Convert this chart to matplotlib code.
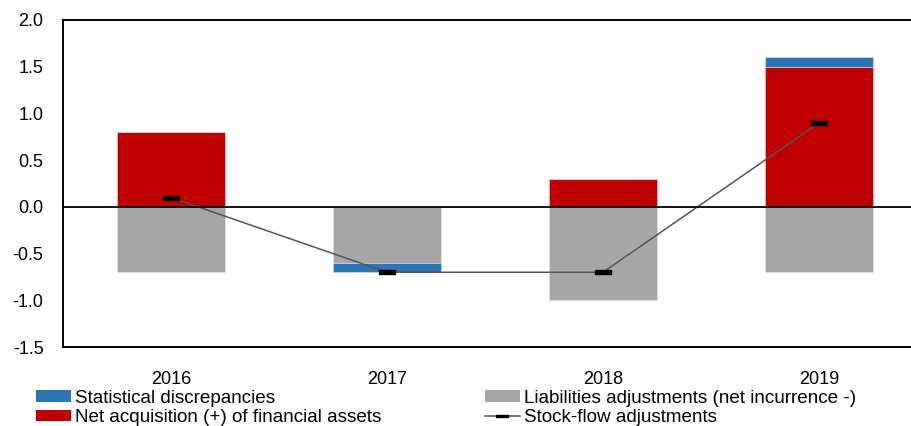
import numpy as np
import matplotlib.pyplot as plt
from matplotlib.patches import Patch
from matplotlib.lines import Line2D

plt.rcParams['font.family'] = ['Liberation Sans', 'DejaVu Sans']

# data
years = ['2016', '2017', '2018', '2019']
stat_disc = [0.0, -0.1, 0.0, 0.1]
net_acq = [0.8, 0.0, 0.3, 1.5]
liab_adj = [-0.7, -0.6, -1.0, -0.7]
stock_flow = [0.1, -0.7, -0.7, 0.9]

BLUE = '#2E75B6'
RED = '#C00000'
GREY = '#A6A6A6'

x = np.arange(len(years))
width = 0.5

fig = plt.figure(figsize=(9.12, 4.26), dpi=100)
ax = fig.add_axes([63 / 912, 79 / 426, 864 / 912, 327 / 426])

# stacking: positive parts on top of red, negative parts under grey
ax.bar(x, net_acq, width, color=RED, edgecolor='#f2c6c6', linewidth=0.5, zorder=2)
ax.bar(x, liab_adj, width, color=GREY, edgecolor='#dedede', linewidth=0.5, zorder=2)
sd = np.array(stat_disc)
bottom = np.where(sd >= 0, np.array(net_acq), np.array(liab_adj))
ax.bar(x, sd, width, bottom=bottom, color=BLUE, edgecolor='#c5d9ee', linewidth=0.5, zorder=2)

dash = [(-2, -0.5), (2, -0.5), (2, 0.5), (-2, 0.5), (-2, -0.5)]
ax.plot(x, stock_flow, color='#555555', linewidth=1.1, marker=dash, markersize=12,
        markerfacecolor='black', markeredgecolor='black', zorder=3)

ax.axhline(0, color='black', linewidth=1.3, zorder=4)

ax.set_xlim(-0.5, 3.5)
ax.set_ylim(-1.5, 2.0)
ax.set_yticks(np.arange(-1.5, 2.01, 0.5))
ax.set_yticklabels([f'{v:.1f}' for v in np.arange(-1.5, 2.01, 0.5)])
ax.set_xticks(x)
ax.set_xticklabels(years)
ax.tick_params(axis='both', length=0, labelsize=13, colors='black')
ax.tick_params(axis='y', pad=14)
ax.tick_params(axis='x', pad=17)
ax.spines['right'].set_visible(False)
for s in ['left', 'top', 'bottom']:
    ax.spines[s].set_linewidth(1.4)

# legend
h1 = [Patch(facecolor=BLUE), Patch(facecolor=RED)]
l1 = ['Statistical discrepancies', 'Net acquisition (+) of financial assets']
h2 = [Patch(facecolor=GREY),
      Line2D([], [], color='#555555', linewidth=1.1, marker=dash, markersize=8,
             markerfacecolor='black', markeredgecolor='black')]
l2 = ['Liabilities adjustments (net incurrence -)', 'Stock-flow adjustments']
for h, l, xa in [(h1, l1, 36 / 912), (h2, l2, 485 / 912)]:
    fig.legend(h, l, loc='center left', bbox_to_anchor=(xa, 18 / 426), frameon=False,
               fontsize=13.6, borderpad=0, borderaxespad=0, handlelength=1.85,
               handleheight=0.55, handletextpad=0.2, labelspacing=0.15)

fig.savefig('out.png', dpi=100)
